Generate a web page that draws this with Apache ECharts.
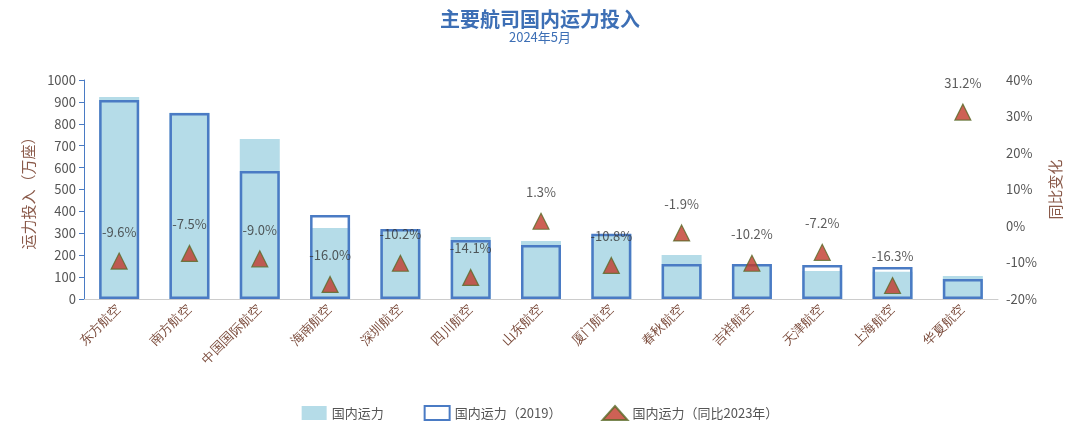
<!DOCTYPE html><html><head><meta charset="utf-8"><script src="https://cdn.jsdelivr.net/npm/echarts@6/dist/echarts.min.js"></script></head><body style="margin:0"><div id="c" style="width:1080px;height:434px"></div><script>
const categories=['东方航空','南方航空','中国国际航空','海南航空','深圳航空','四川航空','山东航空','厦门航空','春秋航空','吉祥航空','天津航空','上海航空','华夏航空'];
const cap2024=[922,851,731,324,312,283,265,296,201,157,128,124,105];
const cap2019=[909,849,584,384,320,269,247,298,160,160,155,146,91];
const yoy=[-9.6,-7.5,-9.0,-16.0,-10.2,-14.1,1.3,-10.8,-1.9,-10.2,-7.2,-16.3,31.2];
const axisC='#4a7bc4';
const font='"Noto Sans CJK SC", sans-serif';
echarts.init(document.getElementById('c')).setOption({
 textStyle:{fontFamily:font},
 title:{text:'主要航司国内运力投入',subtext:'2024年5月',left:'center',top:4,itemGap:2,
  textStyle:{color:'#3d6fb5',fontSize:20,fontWeight:'bold',fontFamily:font},subtextStyle:{color:'#3d6fb5',fontSize:13,fontFamily:font}},
 grid:{left:84,right:82,top:80,bottom:135},
 legend:{bottom:8,itemGap:40,textStyle:{color:'#555',fontSize:13},
  data:[{name:'国内运力',icon:'rect'},{name:'国内运力（2019）',icon:'rect'},{name:'国内运力（同比2023年）',icon:'triangle'}]},
 xAxis:{type:'category',data:categories,axisTick:{show:false},axisLine:{lineStyle:{color:'#ccc'}},
  axisLabel:{rotate:45,color:'#7a4a3a',fontSize:13,interval:0,fontFamily:'serif'}},
 yAxis:[{type:'value',min:0,max:1000,interval:100,name:'运力投入（万座）',nameLocation:'middle',nameGap:45,nameRotate:90,
   nameTextStyle:{color:'#8a5a4a',fontSize:15},axisLine:{show:true,lineStyle:{color:axisC}},axisTick:{show:true},
   axisLabel:{color:'#555',fontSize:13,formatter:v=>String(v)},splitLine:{show:false}},
  {type:'value',min:-20,max:40,interval:10,name:'同比变化',nameLocation:'middle',nameGap:45,nameRotate:90,
   nameTextStyle:{color:'#8a5a4a',fontSize:15},axisLine:{show:false},axisLabel:{formatter:'{value}%',color:'#555',fontSize:13},splitLine:{show:false}}],
 series:[
  {name:'国内运力',type:'bar',data:cap2024,barWidth:40,itemStyle:{color:'#b5dce8'}},
  {name:'国内运力（2019）',type:'bar',data:cap2019,barWidth:40,barGap:'-100%',z:3,
   itemStyle:{color:'rgba(0,0,0,0)',borderColor:'#4a7bc4',borderWidth:2.5}},
  {name:'国内运力（同比2023年）',type:'scatter',yAxisIndex:1,data:yoy,symbol:'triangle',symbolSize:16,z:5,
   itemStyle:{color:'#c0392b',borderColor:'#5a6a28',borderWidth:1.2},
   label:{show:true,position:'top',distance:14,formatter:p=>p.value.toFixed(1)+'%',color:'#333',fontSize:13}}
 ]});
</script></body></html>
